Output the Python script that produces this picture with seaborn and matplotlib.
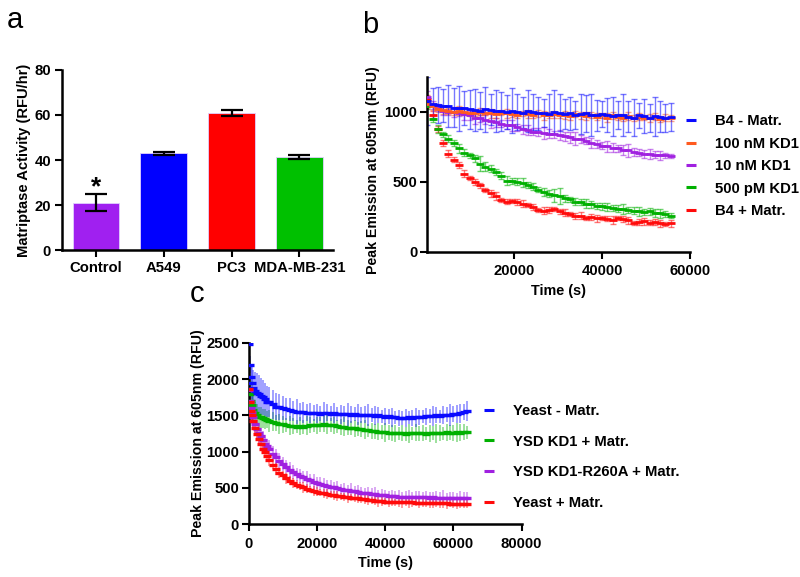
import matplotlib
matplotlib.use("Agg")
import matplotlib.pyplot as plt
from matplotlib.lines import Line2D
import numpy as np
import pandas as pd
import seaborn as sns

# ---------------- data: panel a ----------------
bar_labels = ["Control", "A549", "PC3", "MDA-MB-231"]
bar_values = [21.0, 43.0, 60.8, 41.3]
bar_errors = [3.8, 0.6, 1.3, 0.9]
bar_colors = ["#a020f0", "#0000ff", "#ff0000", "#00c000"]

# ---------------- data: panel b ----------------
time_b = [400, 1600, 2800, 4000, 5200, 6400, 7600, 8800, 10000, 11200,
          12400, 13600, 14800, 16000, 17200, 18400, 19600, 20800, 22000, 23200,
          24400, 25600, 26800, 28000, 29200, 30400, 31600, 32800, 34000, 35200,
          36400, 37600, 38800, 40000, 41200, 42400, 43600, 44800, 46000, 47200,
          48400, 49600, 50800, 52000, 53200, 54400, 55600]
b4_minus = [1080, 1060, 1050, 1045, 1040, 1030, 1025, 1030, 1020, 1015,
            1010, 1020, 1015, 1010, 1005, 1000, 1010, 1000, 995, 1005,
            1000, 990, 995, 985, 1000, 995, 985, 990, 980, 985,
            990, 980, 975, 985, 980, 970, 975, 980, 965, 960,
            975, 970, 960, 970, 965, 960, 965]
b4_minus_err = [170, 110, 130, 120, 150, 140, 160, 120, 140, 150,
                130, 160, 110, 150, 140, 120, 160, 130, 110, 150,
                130, 120, 100, 140, 160, 130, 110, 120, 100, 140,
                130, 150, 110, 90, 120, 140, 100, 150, 110, 130,
                90, 120, 100, 140, 110, 100, 100]
kd1_100nM = [1060, 1040, 1020, 1015, 1005, 1000, 1010, 1000, 995, 990,
             1000, 995, 990, 985, 995, 990, 985, 980, 990, 985,
             980, 990, 975, 980, 985, 975, 980, 970, 985, 975,
             970, 980, 965, 975, 960, 975, 965, 960, 970, 955,
             965, 960, 955, 965, 950, 960, 955]
kd1_100nM_err = [30, 25, 20, 30, 20, 25, 30, 20, 25, 20,
                 25, 20, 30, 25, 20, 30, 20, 25, 20, 30,
                 20, 25, 30, 20, 25, 20, 30, 25, 20, 25,
                 30, 20, 25, 20, 30, 25, 20, 25, 30, 20,
                 25, 20, 30, 25, 20, 25, 20]
kd1_10nM = [1110, 1050, 1030, 1010, 1000, 1000, 995, 985, 975, 960,
            955, 945, 935, 925, 915, 910, 905, 890, 875, 870,
            860, 855, 850, 845, 840, 835, 825, 820, 810, 805,
            795, 780, 770, 760, 755, 745, 740, 730, 725, 715,
            710, 700, 700, 695, 690, 690, 688]
kd1_10nM_err = [40, 30, 25, 30, 20, 35, 25, 40, 30, 45,
                25, 30, 50, 35, 25, 30, 40, 25, 30, 35,
                25, 30, 40, 30, 25, 35, 30, 40, 45, 30,
                25, 35, 30, 25, 40, 30, 25, 35, 45, 30,
                25, 30, 35, 25, 30, 20, 15]
kd1_500pM = [1040, 950, 880, 840, 810, 780, 740, 710, 690, 670,
             630, 610, 595, 570, 545, 510, 505, 500, 495, 480,
             465, 445, 430, 415, 405, 400, 385, 375, 360, 355,
             345, 340, 330, 325, 320, 315, 310, 305, 300, 295,
             290, 285, 290, 280, 275, 270, 260]
kd1_500pM_err = [20, 25, 30, 20, 25, 20, 30, 25, 20, 25,
                 55, 30, 25, 20, 25, 30, 20, 25, 30, 20,
                 25, 20, 30, 25, 45, 55, 25, 20, 25, 20,
                 30, 25, 20, 25, 30, 20, 25, 35, 20, 25,
                 30, 20, 25, 30, 35, 20, 15]
b4_plus = [1090, 980, 880, 780, 700, 660, 620, 560, 530, 500,
           475, 440, 420, 400, 370, 360, 365, 355, 345, 335,
           320, 300, 295, 300, 305, 290, 280, 270, 255, 260,
           245, 250, 240, 245, 238, 230, 240, 235, 225, 205,
           215, 220, 210, 215, 205, 200, 205]
b4_plus_err = [30, 25, 20, 20, 25, 15, 20, 25, 15, 20,
               20, 15, 25, 30, 15, 20, 15, 20, 25, 15,
               20, 15, 25, 20, 15, 20, 25, 15, 20, 25,
               15, 20, 25, 15, 20, 30, 15, 20, 25, 15,
               20, 25, 15, 20, 25, 15, 25]
labels_b = ["B4 - Matr.", "100 nM KD1", "10 nM KD1", "500 pM KD1", "B4 + Matr."]
colors_b = ["#0a0aff", "#ff5a1f", "#a020e0", "#00b000", "#ff0a0a"]

# ---------------- data: panel c ----------------
time_c = [0, 300, 600, 900, 1200, 1800, 2400, 3000, 3600, 4200,
          4800, 5400, 6000, 7000, 8000, 9000, 10000, 11000, 12000, 13000,
          14000, 15000, 16000, 17000, 18000, 19000, 20000, 21000, 22000, 23000,
          24000, 25000, 26000, 27000, 28000, 29000, 30000, 31000, 32000, 33000,
          34000, 35000, 36000, 37000, 38000, 39000, 40000, 41000, 42000, 43000,
          44000, 45000, 46000, 47000, 48000, 49000, 50000, 51000, 52000, 53000,
          54000, 55000, 56000, 57000, 58000, 59000, 60000, 61000, 62000, 63000,
          64000]
yeast_minus = [2480, 2200, 2030, 1950, 1880, 1840, 1810, 1790, 1760, 1750,
               1720, 1690, 1680, 1650, 1620, 1610, 1600, 1590, 1580, 1560,
               1550, 1545, 1540, 1535, 1530, 1535, 1530, 1525, 1530, 1535,
               1525, 1530, 1520, 1515, 1520, 1515, 1510, 1515, 1510, 1505,
               1510, 1500, 1505, 1495, 1500, 1490, 1480, 1485, 1475, 1470,
               1465, 1460, 1465, 1470, 1460, 1475, 1470, 1480, 1485, 1490,
               1495, 1500, 1490, 1505, 1510, 1500, 1515, 1520, 1530, 1540,
               1555]
yeast_minus_err = [40, 120, 180, 220, 250, 260, 270, 260, 250, 240,
                   230, 220, 210, 200, 190, 180, 170, 150, 160, 140,
                   170, 130, 150, 120, 140, 110, 130, 100, 150, 120,
                   110, 140, 100, 130, 110, 160, 120, 100, 140, 110,
                   120, 150, 100, 130, 110, 90, 120, 100, 130, 90,
                   110, 100, 120, 90, 110, 130, 100, 90, 120, 100,
                   140, 110, 90, 120, 100, 150, 110, 120, 130, 110,
                   140]
ysd_kd1 = [1940, 1800, 1700, 1640, 1580, 1530, 1500, 1480, 1470, 1460,
           1450, 1440, 1420, 1410, 1400, 1385, 1375, 1365, 1355, 1350,
           1345, 1350, 1340, 1355, 1360, 1365, 1360, 1370, 1375, 1370,
           1365, 1360, 1350, 1345, 1340, 1330, 1325, 1320, 1310, 1305,
           1300, 1295, 1290, 1280, 1275, 1270, 1265, 1260, 1255, 1250,
           1255, 1250, 1245, 1250, 1255, 1260, 1250, 1255, 1245, 1250,
           1255, 1250, 1260, 1255, 1265, 1260, 1255, 1265, 1260, 1265,
           1265]
ysd_kd1_err = [50, 150, 180, 200, 180, 160, 150, 140, 150, 130,
               140, 120, 150, 130, 110, 140, 120, 100, 130, 110,
               90, 120, 100, 130, 110, 90, 120, 100, 110, 130,
               100, 120, 90, 110, 130, 100, 90, 120, 100, 110,
               130, 90, 110, 100, 120, 90, 130, 100, 110, 120,
               90, 110, 100, 130, 90, 120, 100, 110, 90, 120,
               100, 130, 110, 90, 120, 100, 110, 130, 120, 110,
               90]
ysd_r260a = [1850, 1700, 1600, 1540, 1470, 1380, 1310, 1260, 1210, 1160,
             1110, 1070, 1030, 970, 920, 870, 830, 790, 750, 720,
             690, 665, 645, 625, 605, 585, 570, 555, 540, 525,
             515, 505, 495, 485, 475, 465, 460, 450, 445, 435,
             430, 425, 420, 415, 405, 400, 395, 390, 385, 380,
             378, 375, 372, 370, 372, 368, 370, 372, 368, 365,
             367, 365, 362, 365, 360, 362, 358, 360, 358, 360,
             358]
ysd_r260a_err = [40, 120, 150, 160, 150, 140, 130, 140, 120, 130,
                 120, 110, 130, 100, 120, 110, 100, 90, 110, 100,
                 90, 100, 80, 110, 90, 100, 80, 90, 100, 80,
                 90, 80, 100, 70, 90, 80, 100, 70, 90, 80,
                 70, 90, 80, 100, 70, 90, 80, 70, 90, 80,
                 90, 70, 80, 100, 70, 90, 80, 70, 90, 80,
                 70, 90, 80, 100, 70, 80, 90, 70, 100, 80,
                 90]
yeast_plus = [1870, 1680, 1560, 1500, 1420, 1320, 1240, 1180, 1110, 1040,
              990, 940, 890, 820, 760, 710, 670, 630, 600, 570,
              545, 525, 505, 490, 475, 460, 445, 435, 425, 415,
              405, 398, 390, 382, 375, 370, 365, 360, 355, 345,
              340, 335, 325, 320, 315, 312, 308, 305, 303, 300,
              300, 298, 302, 300, 298, 296, 295, 292, 290, 290,
              288, 290, 286, 288, 285, 282, 280, 278, 280, 276,
              275]
yeast_plus_err = [40, 80, 100, 110, 100, 90, 100, 80, 90, 70,
                  80, 70, 90, 60, 80, 70, 60, 80, 60, 70,
                  60, 50, 70, 60, 50, 70, 60, 50, 60, 70,
                  50, 60, 70, 50, 60, 80, 50, 60, 70, 50,
                  60, 70, 50, 60, 80, 60, 50, 70, 60, 50,
                  60, 70, 50, 80, 60, 50, 70, 60, 50, 70,
                  60, 50, 70, 60, 80, 50, 60, 70, 60, 50,
                  60]
labels_c = ["Yeast - Matr.", "YSD KD1 + Matr.", "YSD KD1-R260A + Matr.", "Yeast + Matr."]
colors_c = ["#0a0aff", "#00b000", "#a020e0", "#ff0a0a"]

# ---------------- style ----------------
sns.set_theme(style="ticks")
plt.rcParams["font.family"] = ["Liberation Sans", "DejaVu Sans"]
plt.rcParams["font.weight"] = "bold"
plt.rcParams["axes.labelweight"] = "bold"
for key in ("text.color", "axes.labelcolor", "xtick.color", "ytick.color",
            "axes.edgecolor", "xtick.labelcolor", "ytick.labelcolor"):
    plt.rcParams[key] = "black"
FS = 10.7

fig = plt.figure(figsize=(8, 5.77), dpi=100)


def style_axes(ax):
    sns.despine(ax=ax)
    for s in ("left", "bottom"):
        ax.spines[s].set_linewidth(1.8)
        ax.spines[s].set_color("black")
    ax.tick_params(axis="both", which="major", length=5, width=1.5,
                   color="black", labelcolor="black", labelsize=FS, pad=2,
                   direction="out")
    for lab in ax.get_xticklabels() + ax.get_yticklabels():
        lab.set_fontweight("bold")


# ---------------- panel a ----------------
ax_a = fig.add_axes([0.0775, 0.5667, 0.339, 0.312])
df_a = pd.DataFrame({"cell": bar_labels, "activity": bar_values})
sns.barplot(data=df_a, x="cell", y="activity", hue="cell", palette=bar_colors,
            saturation=1, legend=False, errorbar=None, width=0.69, ax=ax_a,
            edgecolor="#e0d0ff", linewidth=0.6)
ax_a.errorbar(range(len(bar_labels)), bar_values, yerr=bar_errors, fmt="none",
              ecolor="black", elinewidth=1.6, capsize=8, capthick=1.6, zorder=5)
ax_a.text(0, 24.6, "*", ha="center", va="baseline",
          fontsize=19, fontweight="bold", color="black")
ax_a.set_xlim(-0.5, 3.5)
ax_a.set_ylim(0, 80)
ax_a.set_yticks([0, 20, 40, 60, 80])
ax_a.set_xlabel("")
ax_a.set_ylabel("Matriptase Activity (RFU/hr)", fontsize=10.6, fontweight="bold")
style_axes(ax_a)
ax_a.tick_params(axis="x", pad=3)
ax_a.tick_params(axis="y", pad=3)
ax_a.yaxis.set_label_coords(-0.113, 0.5)
ax_a.yaxis.label.set_va("bottom")

# ---------------- panel b ----------------
ax_b = fig.add_axes([0.534, 0.5633, 0.3287, 0.3033])
series_b = [
    (b4_plus, b4_plus_err, 4),
    (kd1_500pM, kd1_500pM_err, 3),
    (kd1_10nM, kd1_10nM_err, 2),
    (kd1_100nM, kd1_100nM_err, 1),
    (b4_minus, b4_minus_err, 0),
]
for vals, errs, idx in series_b:
    col = colors_b[idx]
    ax_b.errorbar(time_b, vals, yerr=errs, fmt="none", ecolor=col, alpha=0.55,
                  elinewidth=1.0, capsize=2.2, capthick=1.0, zorder=2)
    df = pd.DataFrame({"t": time_b, "v": vals})
    sns.scatterplot(data=df, x="t", y="v", marker="_", color=col, s=26,
                    linewidth=2.0, ax=ax_b, zorder=3, legend=False)
ax_b.set_xlim(386, 60000)
ax_b.set_ylim(0, 1250)
ax_b.set_xticks([20000, 40000, 60000])
ax_b.set_yticks([0, 500, 1000])
ax_b.set_xlabel("Time (s)", fontsize=10.4, fontweight="bold", labelpad=4)
ax_b.set_ylabel("Peak Emission at 605nm (RFU)", fontsize=10.2, fontweight="bold")
style_axes(ax_b)
ax_b.tick_params(axis="x", pad=4)
ax_b.yaxis.set_label_coords(-0.179, 0.47)

handles_b = [Line2D([], [], ls="none", marker="_", color=c, markersize=6.5,
                    markeredgewidth=2.2) for c in colors_b]
ax_b.legend(handles_b, labels_b, loc="upper left", bbox_to_anchor=(0.857, 0.802),
            bbox_transform=fig.transFigure, frameon=False,
            prop={"weight": "bold", "size": FS}, handlelength=0.7,
            handletextpad=1.3, labelspacing=0.57, borderpad=0, borderaxespad=0)

# ---------------- panel c ----------------
ax_c = fig.add_axes([0.311, 0.0918, 0.341, 0.314])
series_c = [
    (ysd_kd1, ysd_kd1_err, 1),
    (yeast_minus, yeast_minus_err, 0),
    (ysd_r260a, ysd_r260a_err, 2),
    (yeast_plus, yeast_plus_err, 3),
]
for vals, errs, idx in series_c:
    ax_c.errorbar(time_c, vals, yerr=errs, fmt="none", ecolor=colors_c[idx],
                  alpha=0.45, elinewidth=1.2, capsize=0, zorder=2)
for vals, errs, idx in series_c:
    df = pd.DataFrame({"t": time_c, "v": vals})
    sns.scatterplot(data=df, x="t", y="v", marker="_", color=colors_c[idx], s=36,
                    linewidth=2.4, ax=ax_c, zorder=3, legend=False)
ax_c.set_xlim(0, 80000)
ax_c.set_ylim(0, 2500)
ax_c.set_xticks([0, 20000, 40000, 60000, 80000])
ax_c.set_yticks([0, 500, 1000, 1500, 2000, 2500])
ax_c.set_xlabel("Time (s)", fontsize=10.4, fontweight="bold", labelpad=4)
ax_c.set_ylabel("Peak Emission at 605nm (RFU)", fontsize=10.2, fontweight="bold")
style_axes(ax_c)
ax_c.tick_params(axis="x", pad=4)
ax_c.yaxis.set_label_coords(-0.161, 0.5)

handles_c = [Line2D([], [], ls="none", marker="_", color=c, markersize=7,
                    markeredgewidth=2.2) for c in colors_c]
ax_c.legend(handles_c, labels_c, loc="upper left", bbox_to_anchor=(0.604, 0.300),
            bbox_transform=fig.transFigure, frameon=False,
            prop={"weight": "bold", "size": FS}, handlelength=0.8,
            handletextpad=1.2, labelspacing=1.13, borderpad=0, borderaxespad=0)

# ---------------- panel letters ----------------
fig.text(0.009, 0.951, "a", fontsize=21, fontweight="normal", va="baseline")
fig.text(0.4525, 0.943, "b", fontsize=21, fontweight="normal", va="baseline")
fig.text(0.2375, 0.4766, "c", fontsize=21, fontweight="normal", va="baseline")

fig.savefig("out.png", dpi=100)
